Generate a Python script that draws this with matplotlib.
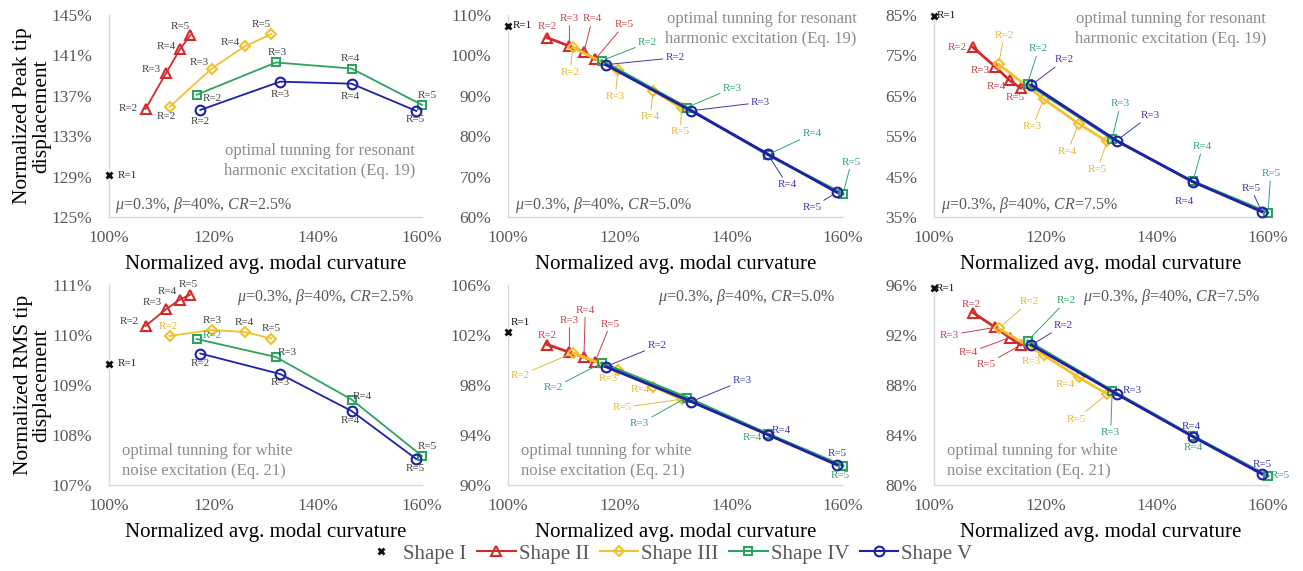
import matplotlib
matplotlib.use("Agg")
import matplotlib.pyplot as plt
from matplotlib.lines import Line2D

plt.rcParams['font.family'] = ['Liberation Serif', 'DejaVu Serif']
plt.rcParams['mathtext.fontset'] = 'custom'
plt.rcParams['mathtext.rm'] = 'Liberation Serif'
plt.rcParams['mathtext.it'] = 'Liberation Serif:italic'

# ---------------- data ----------------
SHAPES = ["Shape I", "Shape II", "Shape III", "Shape IV", "Shape V"]
R_SHAPE_I = [1]
R_OTHERS = [2, 3, 4, 5]

# normalized avg. modal curvature (%)
X_I = [100.0]
X_II = [107.0, 111.0, 113.6, 115.6]
X_III = [111.6, 119.7, 126.0, 131.1]
X_IV = [116.8, 132.0, 146.5, 160.0]
X_V = [117.5, 132.8, 146.5, 158.9]

# normalized peak tip displacement (%), resonant harmonic tuning
PEAK25_I = [129.2]
PEAK25_II = [135.7, 139.3, 141.6, 143.0]
PEAK25_III = [135.9, 139.7, 141.9, 143.1]
PEAK25_IV = [137.1, 140.3, 139.7, 136.1]
PEAK25_V = [135.6, 138.4, 138.2, 135.5]

PEAK50_I = [107.3]
PEAK50_II = [104.4, 102.3, 100.8, 99.0]
PEAK50_III = [102.0, 96.3, 91.3, 86.9]
PEAK50_IV = [98.7, 87.1, 75.4, 65.7]
PEAK50_V = [97.7, 86.3, 75.6, 66.1]

PEAK75_I = [84.8]
PEAK75_II = [77.0, 72.2, 68.8, 66.9]
PEAK75_III = [72.8, 64.2, 58.1, 53.7]
PEAK75_IV = [68.0, 54.4, 43.8, 36.1]
PEAK75_V = [67.7, 53.9, 43.7, 36.3]

# normalized RMS tip displacement (%), white noise tuning
RMS25_I = [109.42]
RMS25_II = [110.18, 110.52, 110.71, 110.81]
RMS25_III = [109.98, 110.10, 110.06, 109.93]
RMS25_IV = [109.92, 109.56, 108.71, 107.58]
RMS25_V = [109.63, 109.22, 108.48, 107.52]

RMS50_I = [102.24]
RMS50_II = [101.24, 100.62, 100.22, 99.87]
RMS50_III = [100.55, 99.22, 97.88, 96.86]
RMS50_IV = [99.76, 97.00, 94.09, 91.53]
RMS50_V = [99.47, 96.67, 94.03, 91.61]

RMS75_I = [95.73]
RMS75_II = [93.79, 92.61, 91.79, 91.20]
RMS75_III = [92.53, 90.40, 88.61, 87.28]
RMS75_IV = [91.52, 87.55, 83.92, 80.72]
RMS75_V = [91.20, 87.28, 83.87, 80.88]

X_TICKS = [100, 120, 140, 160]
Y_TICKS_PEAK25 = [125, 129, 133, 137, 141, 145]
Y_TICKS_PEAK50 = [60, 70, 80, 90, 100, 110]
Y_TICKS_PEAK75 = [35, 45, 55, 65, 75, 85]
Y_TICKS_RMS25 = [107, 108, 109, 110, 111]
Y_TICKS_RMS50 = [90, 94, 98, 102, 106]
Y_TICKS_RMS75 = [80, 84, 88, 92, 96]

CR_TEXTS = [r"$\mu$=0.3%, $\beta$=40%, $CR$=2.5%",
            r"$\mu$=0.3%, $\beta$=40%, $CR$=5.0%",
            r"$\mu$=0.3%, $\beta$=40%, $CR$=7.5%"]
NOTE_TOP = "optimal tunning for resonant\nharmonic excitation (Eq. 19)"
NOTE_BOT = "optimal tunning for white\nnoise excitation (Eq. 21)"
YLABEL_TOP = "Normalized Peak tip\ndisplacement"
YLABEL_BOT = "Normalized RMS tip\ndisplacement"
XLABEL = "Normalized avg. modal curvature"

# ---------------- styles ----------------
COLORS = ["#111111", "#D42A2A", "#F2C12E", "#2EA35F", "#1F1FA8"]
LABEL_COLORS = ["#111111", "#C8404A", "#E6B83A", "#33A46C", "#3A3AA6"]
DARK = "#404040"
MARKERS = ["x", "^", "D", "s", "o"]
MSIZES = [6, 6.5, 5, 5.5, 7]

X_ALL = [X_I, X_II, X_III, X_IV, X_V]
R_ALL = [R_SHAPE_I, R_OTHERS, R_OTHERS, R_OTHERS, R_OTHERS]

panels = [
    dict(ys=[PEAK25_I, PEAK25_II, PEAK25_III, PEAK25_IV, PEAK25_V], ticks=Y_TICKS_PEAK25),
    dict(ys=[PEAK50_I, PEAK50_II, PEAK50_III, PEAK50_IV, PEAK50_V], ticks=Y_TICKS_PEAK50),
    dict(ys=[PEAK75_I, PEAK75_II, PEAK75_III, PEAK75_IV, PEAK75_V], ticks=Y_TICKS_PEAK75),
    dict(ys=[RMS25_I, RMS25_II, RMS25_III, RMS25_IV, RMS25_V], ticks=Y_TICKS_RMS25),
    dict(ys=[RMS50_I, RMS50_II, RMS50_III, RMS50_IV, RMS50_V], ticks=Y_TICKS_RMS50),
    dict(ys=[RMS75_I, RMS75_II, RMS75_III, RMS75_IV, RMS75_V], ticks=Y_TICKS_RMS75),
]

# label offsets (points, centre of label relative to marker), leader flag
L, N = True, False
OFFS = [
    [  # panel 1
        [(13, -1, N)],
        [(-12.5, 0, N), (-11, 2, N), (-10, 2, N), (-7, 6, N)],
        [(-2, -7, N), (-9, 4, N), (-10, 3, N), (-7, 7, N)],
        [(11, -3, N), (1, 7, N), (-1, 7, N), (4, 7, N)],
        [(0, -8, N), (0, -9, N), (-1, -9, N), (-1, -6.5, N)],
    ],
    [  # panel 2
        [(10, 0, N)],
        [(0, 8, N), (0, 20, L), (6, 24, L), (21, 25, L)],
        [(-2, -18, L), (-2, -19, L), (-2, -19, L), (-1, -17, L)],
        [(33, 13, L), (33, 14, L), (32, 15, L), (6, 23, L)],
        [(50, 5, L), (50, 6, L), (14, -22, L), (-18, -11, L)],
    ],
    [  # panel 3
        [(9, 0, N)],
        [(-11, 0, N), (-11, -3, N), (-10, -4, N), (-4, -6.5, N)],
        [(4, 21, L), (-8, -20, L), (-8, -20, L), (-7, -20, L)],
        [(8, 25, L), (6, 25, L), (7, 25, L), (2, 28, L)],
        [(24, 18, L), (24, 18, L), (-6, -14, N), (-8, 17, L)],
    ],
    [  # panel 4
        [(13, 0, N)],
        [(-11.5, 3, N), (-10, 4.5, N), (-9, 6, N), (-1.5, 7.5, N)],
        [(-1, 7, N), (0, 7, N), (0, 7, N), (0, 7, N)],
        [(11, 2.5, N), (8, 3, N), (8, 2.5, N), (4, 7, N)],
        [(0, -7.5, N), (0, -6, N), (-1, -6.5, N), (-1, -7, N)],
    ],
    [  # panel 5
        [(9, 7, N)],
        [(0, 6.5, N), (0, 23, L), (1, 34, L), (11, 27, L)],
        [(-38, -16, L), (-7, -6, N), (-9, -2.5, N), (-43, -6, L)],
        [(-35, -18, L), (-34, -19, L), (-11, -2.5, N), (-2, -7, N)],
        [(37, 15, L), (37, 15, L), (10, 3, N), (0, 8, N)],
    ],
    [  # panel 6
        [(8, 0, N)],
        [(-1, 5.5, N), (-33, -5.5, L), (-30, -11, L), (-25, -14, L)],
        [(22, 19, L), (-9, -5, N), (-10, -5, N), (-22, -18, L)],
        [(28, 29, L), (-1, -30, L), (0, -8, N), (9, 0, N)],
        [(23, 14, L), (11, 2.5, N), (-1, 7, N), (0, 7, N)],
    ],
]
DARK_LABEL_PANELS = {0, 3}
COLORED_EXCEPTIONS = {(3, 2, 0), (3, 3, 0)}

fig = plt.figure(figsize=(13.03, 5.71), dpi=100)
W, H = 1303.0, 571.0
col_px = [(109, 422), (508, 843), (934, 1268)]
row_px = [(15, 217), (285, 485)]

TICK_COLOR = "#595959"
SPINE_COLOR = "#D9D9D9"
NOTE_COLOR = "#8C8C8C"
NOTE_SIZE = 12
NOTE_TOP_X = [0.978, 1.04, 0.994]

for p, panel in enumerate(panels):
    r, c = divmod(p, 3)
    x0, x1 = col_px[c]
    y0, y1 = row_px[r]
    ax = fig.add_axes([x0 / W, 1 - y1 / H, (x1 - x0) / W, (y1 - y0) / H])
    ticks = panel["ticks"]
    ax.set_xlim(X_TICKS[0], X_TICKS[-1])
    ax.set_ylim(ticks[0], ticks[-1])
    ax.set_xticks(X_TICKS)
    ax.set_xticklabels([f"{t}%" for t in X_TICKS])
    ax.set_yticks(ticks)
    ax.set_yticklabels([f"{t}%" for t in ticks])
    ax.tick_params(axis="both", length=0, labelsize=12.5, colors=TICK_COLOR)
    ax.tick_params(axis="x", pad=9)
    ax.tick_params(axis="y", pad=12)
    for s in ["top", "right"]:
        ax.spines[s].set_visible(False)
    for s in ["left", "bottom"]:
        ax.spines[s].set_color(SPINE_COLOR)
        ax.spines[s].set_linewidth(1.0)
    ax.set_xlabel(XLABEL, fontsize=15, labelpad=7, color="black")
    if c == 0:
        ax.set_ylabel(YLABEL_TOP if r == 0 else YLABEL_BOT, fontsize=15.5,
                      labelpad=0, color="black", linespacing=1.0)

    lw = 1.3 if c == 0 else 2.0
    for k in range(5):
        xs = X_ALL[k]
        ys = panel["ys"][k]
        if k == 0:
            ax.plot(xs, ys, linestyle="none", marker="x", color=COLORS[0],
                    markersize=5, mew=2.0, zorder=3, clip_on=False)
        else:
            ax.plot(xs, ys, color=COLORS[k], lw=lw, marker=MARKERS[k],
                    markersize=MSIZES[k], mfc="none", mec=COLORS[k], mew=1.5,
                    zorder=3 + k, clip_on=False)
        for j, rv in enumerate(R_ALL[k]):
            dx, dy, lead = OFFS[p][k][j]
            if p in DARK_LABEL_PANELS and (p, k, j) not in COLORED_EXCEPTIONS:
                lc = DARK if k > 0 else "#222222"
            else:
                lc = LABEL_COLORS[k]
            kw = {}
            if lead:
                kw["arrowprops"] = dict(arrowstyle="-", color=lc, lw=0.7,
                                        shrinkA=0, shrinkB=3)
            ax.annotate(f"R={rv}", (xs[j], ys[j]), xytext=(dx, dy),
                        textcoords="offset points", ha="center", va="center",
                        fontsize=8, color=lc, zorder=10, **kw)

    if r == 0:
        ax.text(0.02, 0.01, CR_TEXTS[c], transform=ax.transAxes, fontsize=11.5,
                color=TICK_COLOR, ha="left", va="bottom")
        if c == 0:
            ax.text(NOTE_TOP_X[c], 0.19, NOTE_TOP, transform=ax.transAxes,
                    fontsize=NOTE_SIZE, color=NOTE_COLOR, ha="right", va="bottom",
                    linespacing=1.3)
        else:
            ax.text(NOTE_TOP_X[c], 1.02, NOTE_TOP, transform=ax.transAxes,
                    fontsize=NOTE_SIZE, color=NOTE_COLOR, ha="right", va="top",
                    linespacing=1.3)
    else:
        ax.text(0.975, 0.99, CR_TEXTS[c], transform=ax.transAxes, fontsize=11.5,
                color=TICK_COLOR, ha="right", va="top")
        ax.text(0.04, 0.03, NOTE_BOT, transform=ax.transAxes, fontsize=NOTE_SIZE,
                color=NOTE_COLOR, ha="left", va="bottom", linespacing=1.3)

handles = [Line2D([], [], linestyle="none", marker="x", color=COLORS[0],
                  markersize=5, mew=2.0)]
for k in range(1, 5):
    handles.append(Line2D([], [], color=COLORS[k], lw=1.5, marker=MARKERS[k],
                          markersize=MSIZES[k], mfc="none", mec=COLORS[k], mew=1.5))
leg = fig.legend(handles, SHAPES, loc="center", bbox_to_anchor=(0.512, 0.03),
                 ncol=5, frameon=False, fontsize=15, handlelength=1.85,
                 columnspacing=0.5, handletextpad=0.15)
for t in leg.get_texts():
    t.set_color(TICK_COLOR)

fig.savefig("out.png", dpi=100)
